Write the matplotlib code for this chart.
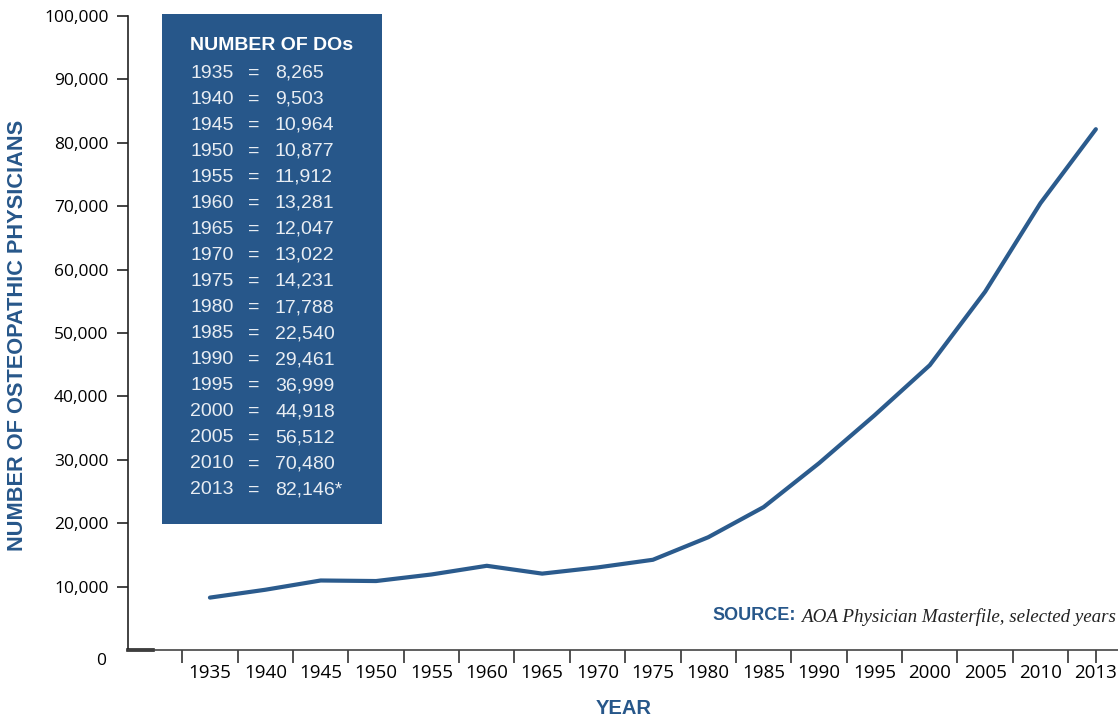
import matplotlib
matplotlib.use("Agg")
import matplotlib.pyplot as plt
from matplotlib.patches import Rectangle

years = ["1935", "1940", "1945", "1950", "1955", "1960", "1965", "1970", "1975",
         "1980", "1985", "1990", "1995", "2000", "2005", "2010", "2013"]
dos = [8265, 9503, 10964, 10877, 11912, 13281, 12047, 13022, 14231,
       17788, 22540, 29461, 36999, 44918, 56512, 70480, 82146]
value_labels = ["8,265", "9,503", "10,964", "10,877", "11,912", "13,281", "12,047",
                "13,022", "14,231", "17,788", "22,540", "29,461", "36,999",
                "44,918", "56,512", "70,480", "82,146*"]
yticks = [10000, 20000, 30000, 40000, 50000, 60000, 70000, 80000, 90000, 100000]

BLUE = "#27578a"
W, H = 1118, 719
fig = plt.figure(figsize=(W / 100, H / 100), dpi=100)
ax = fig.add_axes([128 / W, 1 - 650 / H, (W - 128) / W, (650 - 16) / H])

xs = list(range(len(years)))
ax.plot(xs, dos, color="#2b5b8d", lw=3.0, solid_capstyle="round", solid_joinstyle="round")

ax.set_xlim(-1.48, 16.4)
ax.set_ylim(0, 100000)

for s in ["top", "right"]:
    ax.spines[s].set_visible(False)
ax.spines["left"].set_color("#222222")
ax.spines["bottom"].set_color("#444444")
ax.spines["left"].set_linewidth(1.2)
ax.spines["bottom"].set_linewidth(1.2)
ax.axhline(0, xmin=0, xmax=25 / 990, color="#222222", lw=2.6, clip_on=False)

# y ticks
ax.set_yticks(yticks)
ax.set_yticklabels([f"{v:,}" for v in yticks], fontfamily="Open Sans", fontsize=12.5)
ax.tick_params(axis="y", direction="out", length=8, width=1.2, pad=6, colors="#222222", labelcolor="black")
ax.text(-0.022, -0.017, "0", transform=ax.transAxes, ha="right", va="center",
        fontfamily="Open Sans", fontsize=12.5)

# x ticks: boundaries (major) and labels (minor)
ax.xaxis.remove_overlapping_locs = False
bounds = [i - 0.5 for i in range(len(years))] + [len(years) - 1]
ax.set_xticks(bounds)
ax.set_xticklabels([""] * len(bounds))
ax.tick_params(axis="x", which="major", direction="out", length=9, width=1.2, colors="#333333")
ax.set_xticks(xs, minor=True)
ax.set_xticklabels(years, minor=True, fontfamily="Open Sans", fontsize=13.5)
ax.tick_params(axis="x", which="minor", length=0, pad=10)

# axis titles
fig.text(18 / W, 1 - 335 / H, "NUMBER OF OSTEOPATHIC PHYSICIANS", rotation=90,
         ha="center", va="center", color=BLUE, fontfamily="Liberation Sans",
         fontsize=15.7, fontweight="bold")
fig.text(624 / W, 1 - 708 / H, "YEAR", ha="center", va="center", color=BLUE,
         fontfamily="Liberation Sans", fontsize=14.5, fontweight="bold")

# data box
fig.patches.append(Rectangle((162 / W, 1 - 524 / H), 220 / W, 510 / H,
                             transform=fig.transFigure, facecolor=BLUE,
                             edgecolor="none", zorder=3))
fig.text(190 / W, 1 - 46 / H, "NUMBER OF DOs", ha="left", va="center", color="white",
         fontfamily="Liberation Sans", fontweight="bold", fontsize=14, zorder=4)
for i, (yr, vl) in enumerate(zip(years, value_labels)):
    yy = 1 - (73 + i * 26.06) / H
    fig.text(190 / W, yy, yr, ha="left", va="center", color="#e8edf3",
             fontfamily="Liberation Sans", fontsize=14, zorder=4)
    fig.text(254 / W, yy, "=", ha="center", va="center", color="#e8edf3",
             fontfamily="Liberation Sans", fontsize=14, zorder=4)
    fig.text(275 / W, yy, vl, ha="left", va="center", color="#e8edf3",
             fontfamily="Liberation Sans", fontsize=14, zorder=4)

# source
fig.text(1116 / W, 1 - 617 / H, "AOA Physician Masterfile, selected years", ha="right",
         va="center", fontfamily="Liberation Serif", style="italic", fontsize=13.7,
         color="#222222")
fig.text(796 / W, 1 - 616 / H, "SOURCE:", ha="right", va="center", color=BLUE,
         fontfamily="Liberation Sans", fontweight="bold", fontsize=13)

fig.savefig("out.png", dpi=100)
